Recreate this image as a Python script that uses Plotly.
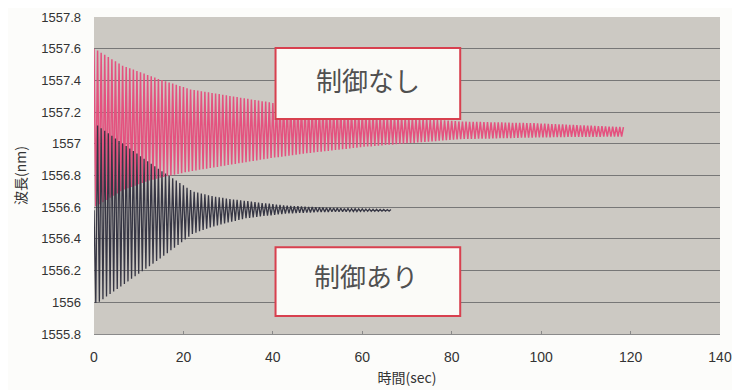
import plotly.graph_objects as go

# ---------------- data ----------------
sample_interval = 0.4  # seconds between successive turning points

# 制御なし (no control): peaks at t = 0, 0.8, 1.6 ... ; troughs in between
red_peaks = [
    1557.600, 1557.588, 1557.575, 1557.561, 1557.548, 1557.534, 1557.520, 1557.507, 1557.493, 1557.484,
    1557.476, 1557.468, 1557.459, 1557.451, 1557.443, 1557.434, 1557.426, 1557.418, 1557.409, 1557.402,
    1557.394, 1557.387, 1557.380, 1557.372, 1557.365, 1557.358, 1557.350, 1557.343, 1557.339, 1557.336,
    1557.332, 1557.328, 1557.325, 1557.321, 1557.317, 1557.314, 1557.310, 1557.306, 1557.302, 1557.299,
    1557.295, 1557.291, 1557.288, 1557.284, 1557.280, 1557.277, 1557.273, 1557.269, 1557.266, 1557.262,
    1557.258, 1557.255, 1557.252, 1557.249, 1557.246, 1557.243, 1557.240, 1557.237, 1557.234, 1557.231,
    1557.229, 1557.226, 1557.223, 1557.221, 1557.218, 1557.216, 1557.213, 1557.210, 1557.208, 1557.205,
    1557.203, 1557.200, 1557.197, 1557.195, 1557.192, 1557.190, 1557.188, 1557.186, 1557.185, 1557.183,
    1557.181, 1557.179, 1557.177, 1557.175, 1557.174, 1557.172, 1557.170, 1557.168, 1557.166, 1557.164,
    1557.163, 1557.161, 1557.159, 1557.157, 1557.155, 1557.154, 1557.152, 1557.150, 1557.148, 1557.146,
    1557.145, 1557.143, 1557.141, 1557.140, 1557.140, 1557.139, 1557.139, 1557.138, 1557.138, 1557.137,
    1557.137, 1557.136, 1557.136, 1557.135, 1557.135, 1557.134, 1557.134, 1557.133, 1557.133, 1557.132,
    1557.132, 1557.131, 1557.131, 1557.130, 1557.129, 1557.128, 1557.127, 1557.126, 1557.125, 1557.124,
    1557.123, 1557.122, 1557.121, 1557.120, 1557.119, 1557.118, 1557.117, 1557.116, 1557.115, 1557.114,
    1557.113, 1557.112, 1557.111, 1557.110, 1557.109, 1557.108, 1557.107, 1557.106, 1557.105,
]
red_troughs = [
    1556.606, 1556.618, 1556.632, 1556.646, 1556.659, 1556.673, 1556.686, 1556.700, 1556.711, 1556.720,
    1556.728, 1556.736, 1556.745, 1556.753, 1556.761, 1556.769, 1556.774, 1556.780, 1556.786, 1556.791,
    1556.796, 1556.800, 1556.805, 1556.810, 1556.815, 1556.820, 1556.824, 1556.829, 1556.832, 1556.836,
    1556.840, 1556.843, 1556.847, 1556.851, 1556.854, 1556.858, 1556.862, 1556.866, 1556.869, 1556.873,
    1556.877, 1556.880, 1556.884, 1556.888, 1556.891, 1556.895, 1556.899, 1556.902, 1556.906, 1556.910,
    1556.913, 1556.916, 1556.919, 1556.922, 1556.925, 1556.928, 1556.931, 1556.934, 1556.937, 1556.940,
    1556.942, 1556.945, 1556.948, 1556.950, 1556.953, 1556.955, 1556.958, 1556.961, 1556.963, 1556.966,
    1556.968, 1556.971, 1556.974, 1556.976, 1556.979, 1556.981, 1556.983, 1556.984, 1556.986, 1556.988,
    1556.990, 1556.992, 1556.994, 1556.995, 1556.997, 1556.999, 1557.001, 1557.003, 1557.005, 1557.006,
    1557.008, 1557.010, 1557.012, 1557.014, 1557.015, 1557.017, 1557.019, 1557.021, 1557.023, 1557.024,
    1557.026, 1557.028, 1557.029, 1557.030, 1557.030, 1557.031, 1557.031, 1557.032, 1557.032, 1557.033,
    1557.033, 1557.034, 1557.034, 1557.035, 1557.035, 1557.036, 1557.036, 1557.037, 1557.037, 1557.038,
    1557.038, 1557.039, 1557.039, 1557.040, 1557.041, 1557.041, 1557.041, 1557.041, 1557.042, 1557.042,
    1557.042, 1557.042, 1557.043, 1557.043, 1557.043, 1557.043, 1557.043, 1557.044, 1557.044, 1557.044,
    1557.044, 1557.044, 1557.045, 1557.045, 1557.045, 1557.045, 1557.045, 1557.045,
]

# 制御あり (with control): starts at 1556.58, trough first, then peak ...
black_start = 1556.580
black_troughs = [
    1555.995, 1556.004, 1556.020, 1556.036, 1556.052, 1556.068, 1556.084, 1556.100, 1556.116, 1556.132,
    1556.148, 1556.164, 1556.180, 1556.196, 1556.212, 1556.228, 1556.244, 1556.260, 1556.277, 1556.293,
    1556.310, 1556.328, 1556.345, 1556.362, 1556.379, 1556.397, 1556.414, 1556.431, 1556.439, 1556.448,
    1556.456, 1556.464, 1556.472, 1556.479, 1556.485, 1556.491, 1556.497, 1556.503, 1556.509, 1556.514,
    1556.519, 1556.524, 1556.530, 1556.533, 1556.536, 1556.539, 1556.542, 1556.545, 1556.547, 1556.549,
    1556.552, 1556.554, 1556.556, 1556.559, 1556.561, 1556.562, 1556.563, 1556.564, 1556.565, 1556.566,
    1556.567, 1556.568, 1556.569, 1556.570, 1556.570, 1556.570, 1556.571, 1556.571, 1556.572, 1556.572,
    1556.572, 1556.573, 1556.573, 1556.573, 1556.573, 1556.574, 1556.574, 1556.574, 1556.574, 1556.574,
    1556.575, 1556.575, 1556.575,
]
black_peaks = [
    1557.115, 1557.098, 1557.082, 1557.066, 1557.050, 1557.034, 1557.018, 1557.002, 1556.986, 1556.970,
    1556.954, 1556.938, 1556.922, 1556.906, 1556.890, 1556.874, 1556.858, 1556.842, 1556.827, 1556.812,
    1556.797, 1556.782, 1556.768, 1556.753, 1556.738, 1556.723, 1556.709, 1556.698, 1556.692, 1556.686,
    1556.681, 1556.675, 1556.670, 1556.666, 1556.663, 1556.659, 1556.655, 1556.652, 1556.649, 1556.647,
    1556.644, 1556.641, 1556.638, 1556.635, 1556.632, 1556.629, 1556.626, 1556.624, 1556.622, 1556.619,
    1556.617, 1556.615, 1556.612, 1556.610, 1556.608, 1556.607, 1556.606, 1556.605, 1556.604, 1556.602,
    1556.601, 1556.600, 1556.599, 1556.598, 1556.596, 1556.596, 1556.595, 1556.594, 1556.593, 1556.592,
    1556.592, 1556.591, 1556.590, 1556.589, 1556.589, 1556.588, 1556.588, 1556.587, 1556.587, 1556.586,
    1556.586, 1556.585, 1556.585,
]

x_ticks = [0, 20, 40, 60, 80, 100, 120, 140]
y_ticks = [1555.8, 1556.0, 1556.2, 1556.4, 1556.6, 1556.8, 1557.0, 1557.2, 1557.4, 1557.6, 1557.8]
y_tick_text = ["1555.8", "1556", "1556.2", "1556.4", "1556.6", "1556.8",
               "1557", "1557.2", "1557.4", "1557.6", "1557.8"]
label_red = "制御なし"
label_black = "制御あり"
x_title = "時間(sec)"
y_title = "波長(nm)"

# ---------------- build series ----------------
red_y = []
for i, p in enumerate(red_peaks):
    red_y.append(p)
    if i < len(red_troughs):
        red_y.append(red_troughs[i])
red_x = [i * sample_interval for i in range(len(red_y))]

black_y = [black_start]
for i, tr in enumerate(black_troughs):
    black_y.append(tr)
    if i < len(black_peaks):
        black_y.append(black_peaks[i])
black_x = [i * sample_interval for i in range(len(black_y))]

fig = go.Figure()
fig.add_trace(go.Scatter(x=red_x, y=red_y, mode="lines", name=label_red,
                         line=dict(color="#e4527f", width=1.5, simplify=False),
                         showlegend=False, hoverinfo="skip"))
fig.add_trace(go.Scatter(x=black_x, y=black_y, mode="lines", name=label_black,
                         line=dict(color="#363644", width=1.3, simplify=False),
                         showlegend=False, hoverinfo="skip"))

# label boxes (paper coordinates)
box_style = dict(type="rect", xref="paper", yref="paper",
                 line=dict(color="#d8404f", width=2), fillcolor="#fbfbf8", layer="above")
fig.add_shape(x0=0.290, x1=0.585, y0=0.678, y1=0.902, **box_style)
fig.add_shape(x0=0.290, x1=0.585, y0=0.057, y1=0.274, **box_style)

fig.add_annotation(x=0.438, y=0.804, xref="paper", yref="paper", text=label_red,
                   showarrow=False, xanchor="center", yanchor="middle",
                   font=dict(family="Noto Sans CJK JP", size=26, color="#505050"))
fig.add_annotation(x=0.434, y=0.186, xref="paper", yref="paper", text=label_black,
                   showarrow=False, xanchor="center", yanchor="middle",
                   font=dict(family="Noto Sans CJK JP", size=26, color="#505050"))

# the page adds an 8px body margin, so the figure margins are reduced to match
fig.update_layout(
    width=740, height=390,
    margin=dict(l=86, r=28, t=9, b=64, autoexpand=False),
    paper_bgcolor="#fcfcfa",
    plot_bgcolor="#ccc9c3",
    font=dict(family="Liberation Sans, Arial, sans-serif", size=13, color="#333333"),
)
fig.update_xaxes(
    range=[0, 140], tickvals=x_ticks, ticktext=[str(v) for v in x_ticks],
    showgrid=False, zeroline=False, automargin=False,
    showline=True, linecolor="#8a8a8a", linewidth=1,
    ticks="inside", ticklen=3, tickcolor="#8a8a8a",
    ticklabelstandoff=10,
    tickfont=dict(size=14),
    title=dict(text=x_title, standoff=9,
               font=dict(family="Noto Sans CJK JP", size=14, color="#333333")),
)
fig.update_yaxes(
    range=[1555.8, 1557.8], tickvals=y_ticks, ticktext=y_tick_text,
    showgrid=True, gridcolor="#777777", gridwidth=1, zeroline=False, automargin=False,
    showline=False, ticks="", ticklabelstandoff=12,
    tickfont=dict(size=13),
    title=dict(text=y_title, standoff=11,
               font=dict(family="Noto Sans CJK JP", size=14, color="#333333")),
)

fig.write_html("out.html")
